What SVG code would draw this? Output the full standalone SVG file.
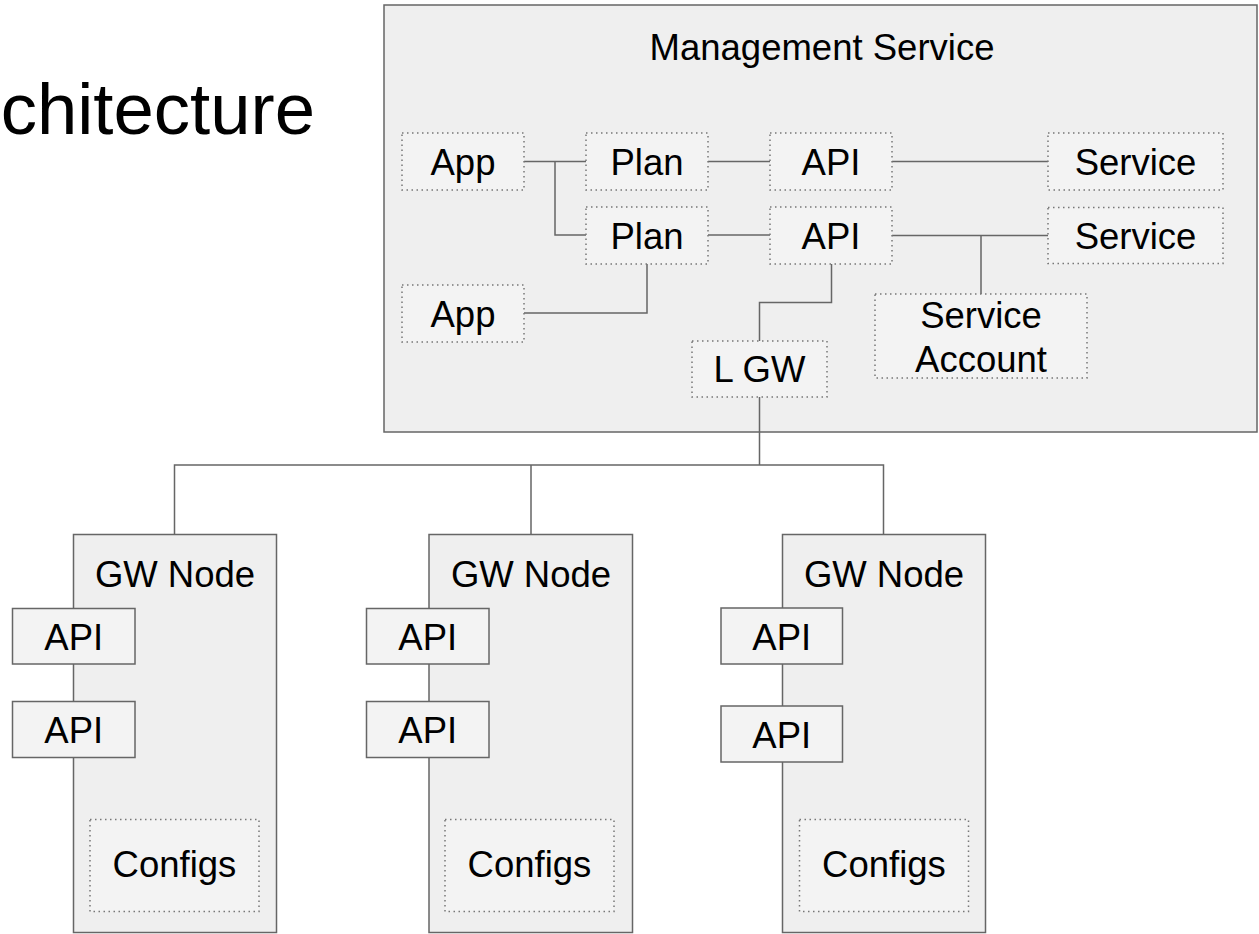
<svg xmlns="http://www.w3.org/2000/svg" width="1259" height="934" viewBox="0 0 1259 934">
  <style>
    text { font-family: "Liberation Sans", Arial, sans-serif; font-size: 36.5px; fill: #000; text-anchor: middle; }
    .frame { fill: #efefef; stroke: #666; stroke-width: 1.5; }
    .solid { fill: #f3f3f3; stroke: #666; stroke-width: 1.5; }
    .dotted { fill: #f3f3f3; stroke: #777; stroke-width: 1.5; stroke-dasharray: 1.5 3.5; }
    .link { fill: none; stroke: #666; stroke-width: 1.5; }
  </style>

  <!-- heading -->
  <text x="315" y="134" style="font-size:72.5px; text-anchor:end">chitecture</text>

  <!-- management service container -->
  <g id="management-service">
    <rect class="frame" x="384" y="5" width="873" height="427"/>
    <text x="822" y="60">Management Service</text>
  </g>

  <!-- connectors -->
  <g id="connectors">
    <path class="link" d="M524 161.5 H586 M555 161.5 V235 H586"/>
    <path class="link" d="M708 161.5 H770"/>
    <path class="link" d="M892 161.5 H1048"/>
    <path class="link" d="M708 235 H770"/>
    <path class="link" d="M647 264 V313 H524"/>
    <path class="link" d="M892 235.5 H1048 M981 235.5 V294"/>
    <path class="link" d="M831.5 264 V302.5 H759.5 V341"/>
    <path class="link" d="M759.5 397 V465 M174.5 534 V465 H883.5 V534 M531 465 V534"/>
  </g>

  <g id="app-1">
    <rect class="dotted" x="402" y="133" width="122" height="57"/>
    <text x="463" y="174.5">App</text>
  </g>
  <g id="plan-1">
    <rect class="dotted" x="586" y="133" width="122" height="57"/>
    <text x="647" y="174.5">Plan</text>
  </g>
  <g id="api-1">
    <rect class="dotted" x="770" y="133" width="122" height="57"/>
    <text x="831" y="174.5">API</text>
  </g>
  <g id="service-1">
    <rect class="dotted" x="1048" y="133" width="175" height="57"/>
    <text x="1135.5" y="174.5">Service</text>
  </g>
  <g id="plan-2">
    <rect class="dotted" x="586" y="207" width="122" height="57"/>
    <text x="647" y="248.5">Plan</text>
  </g>
  <g id="api-2">
    <rect class="dotted" x="770" y="207" width="122" height="57"/>
    <text x="831" y="248.5">API</text>
  </g>
  <g id="service-2">
    <rect class="dotted" x="1048" y="207.5" width="175" height="56"/>
    <text x="1135.5" y="248.5">Service</text>
  </g>
  <g id="app-2">
    <rect class="dotted" x="402" y="285" width="122" height="57"/>
    <text x="463" y="326.5">App</text>
  </g>
  <g id="service-account">
    <rect class="dotted" x="875" y="294" width="212" height="84"/>
    <text x="981" y="327.5">Service</text>
    <text x="981" y="371.5">Account</text>
  </g>
  <g id="local-gateway">
    <rect class="dotted" x="692" y="341" width="135" height="56"/>
    <text x="759.5" y="382">L GW</text>
  </g>

  <!-- gateway nodes -->
  <g id="gw-node-1">
    <rect class="frame" x="73.5" y="534.5" width="203" height="398"/>
    <text x="175" y="587">GW Node</text>
    <rect class="solid" x="12.5" y="608.5" width="122.5" height="55.5"/>
    <text x="73.75" y="650">API</text>
    <rect class="solid" x="12.5" y="701.5" width="122.5" height="56"/>
    <text x="73.75" y="743">API</text>
    <rect class="dotted" x="90" y="819.5" width="169" height="92"/>
    <text x="174.5" y="877">Configs</text>
  </g>
  <g id="gw-node-2">
    <rect class="frame" x="429" y="534.5" width="203.5" height="398"/>
    <text x="531" y="587">GW Node</text>
    <rect class="solid" x="366.5" y="608.5" width="122.5" height="55.5"/>
    <text x="427.75" y="650">API</text>
    <rect class="solid" x="366.5" y="701.5" width="122.5" height="56"/>
    <text x="427.75" y="743">API</text>
    <rect class="dotted" x="445" y="819.5" width="169" height="92"/>
    <text x="529.5" y="877">Configs</text>
  </g>
  <g id="gw-node-3">
    <rect class="frame" x="782.5" y="534.5" width="203" height="398"/>
    <text x="884" y="587">GW Node</text>
    <rect class="solid" x="721" y="608" width="121.5" height="56"/>
    <text x="781.75" y="650">API</text>
    <rect class="solid" x="721" y="706" width="121.5" height="56"/>
    <text x="781.75" y="747.5">API</text>
    <rect class="dotted" x="799.5" y="819.5" width="169" height="92"/>
    <text x="884" y="877">Configs</text>
  </g>
</svg>
